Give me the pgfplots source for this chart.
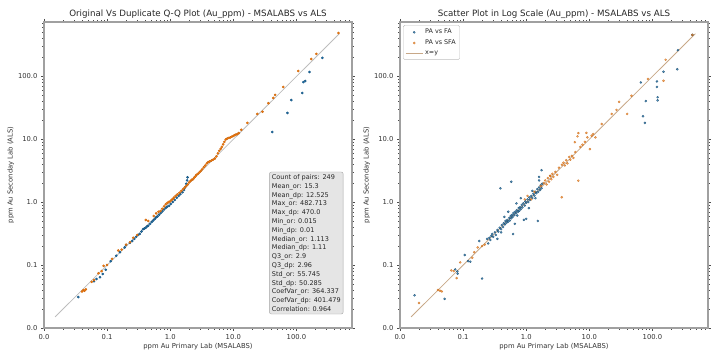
\documentclass[border=0pt]{standalone}
\usepackage{pgfplots}
\pgfplotsset{compat=1.18}
\usepackage{fontspec}
\setmainfont{DejaVu Sans}
\definecolor{mblue}{HTML}{1F77B4}
\definecolor{morange}{HTML}{FF7F0E}
\definecolor{spine}{HTML}{A0A0A0}
\definecolor{linegray}{HTML}{BDBDBD}
\definecolor{linetan}{HTML}{C8A888}
\begin{document}
\begin{tikzpicture}[x=1pt,y=1pt]
\path[use as bounding box] (0,0) rectangle (716,358);
% ---------------- Left: Q-Q plot ----------------
\begin{axis}[at={(44pt,30pt)},
    scale only axis, width=308pt, height=306pt, anchor=south west,
    xmode=log, ymode=log, xmin=0.01, xmax=760, ymin=0.01, ymax=720,
    axis line style={spine, line width=1.4pt},
    xtick={0.01,0.1,1,10,100}, ytick={0.01,0.1,1,10,100},
    xticklabels={0.0,0.1,1.0,10.0,100.0}, yticklabels={0.0,0.1,1.0,10.0,100.0},
    minor xtick={0.02,0.03,0.04,0.05,0.06,0.07,0.08,0.09,0.2,0.3,0.4,0.5,0.6,0.7,0.8,0.9,2,3,4,5,6,7,8,9,20,30,40,50,60,70,80,90,200,300,400,500,600,700},
    minor ytick={0.02,0.03,0.04,0.05,0.06,0.07,0.08,0.09,0.2,0.3,0.4,0.5,0.6,0.7,0.8,0.9,2,3,4,5,6,7,8,9,20,30,40,50,60,70,80,90,200,300,400,500,600,700},
    tick align=outside, major tick length=3pt, minor tick length=1.8pt,
    tick style={black!70, line width=0.5pt},
    ticklabel style={font=\fontsize{6.8}{7}\selectfont, text=black!80},
    label style={font=\fontsize{6.8}{7}\selectfont, text=black!80},
    title style={font=\fontsize{8.7}{9}\selectfont, text=black!85, at={(0.5,1)}, anchor=south, yshift=-6pt},
    xlabel={ppm Au Primary Lab (MSALABS)},
    ylabel={ppm Au Seconday Lab (ALS)},
    xlabel style={yshift=3pt},
    ylabel style={yshift=-3pt},
  title={Original Vs Duplicate Q-Q Plot (Au\_ppm) - MSALABS vs ALS}]
\addplot[linegray, line width=0.8pt] coordinates {(0.015,0.015) (480,470)};
\addplot[only marks, mark=*, mark size=1.1pt, mblue, mark options={draw=mblue!70!black, fill=mblue}] table {
x y
0.035 0.031
0.062 0.055
0.068 0.060
0.077 0.064
0.085 0.072
0.095 0.084
0.114 0.115
0.14 0.14
0.16 0.16
0.19 0.19
0.20 0.207
0.23 0.225
0.25 0.24
0.27 0.26
0.29 0.28
0.31 0.30
0.33 0.31
0.35 0.34
0.37 0.37
0.39 0.38
0.41 0.39
0.43 0.41
0.45 0.42
0.48 0.45
0.51 0.48
0.54 0.51
0.57 0.54
0.60 0.57
0.63 0.59
0.67 0.63
0.71 0.67
0.75 0.71
0.80 0.76
0.85 0.80
0.90 0.84
0.96 0.87
1.02 0.93
1.10 1.00
1.18 1.08
1.27 1.17
1.36 1.25
1.45 1.33
1.57 1.43
1.65 1.55
1.72 1.70
1.80 1.95
1.85 2.2
1.88 2.46
41.4 12.9
72 25.9
83 41.5
124 53.8
129 80
138 83
161 116
258 194
};
\addplot[only marks, mark=*, mark size=1.1pt, morange, mark options={draw=morange!80!black, fill=morange}] table {
x y
0.040 0.038
0.042 0.040
0.044 0.039
0.046 0.041
0.057 0.054
0.062 0.058
0.073 0.074
0.082 0.080
0.088 0.097
0.10 0.10
0.12 0.125
0.15 0.17
0.17 0.175
0.20 0.21
0.23 0.23
0.26 0.27
0.30 0.30
0.41 0.52
0.45 0.50
0.55 0.60
0.60 0.66
0.65 0.70
0.70 0.72
0.75 0.78
0.80 0.85
0.85 0.92
0.90 0.97
0.95 1.00
1.00 1.03
1.05 1.08
1.10 1.12
1.15 1.18
1.22 1.25
1.30 1.32
1.40 1.40
1.50 1.50
1.60 1.60
1.70 1.70
1.80 1.80
1.90 1.90
2.00 2.05
2.10 2.15
2.20 2.25
2.30 2.30
2.40 2.45
2.50 2.55
2.60 2.70
2.75 2.80
2.90 2.95
3.05 3.10
3.20 3.30
3.40 3.55
3.60 3.80
3.80 4.10
4.00 4.30
4.20 4.40
4.50 4.55
4.80 4.70
5.10 4.90
5.40 5.30
5.70 5.90
6.00 6.50
6.30 7.00
6.60 7.50
6.90 8.20
7.20 9.00
7.60 9.80
8.00 10.2
8.50 10.4
9.00 10.6
9.50 10.9
10.0 11.2
10.5 11.5
11.0 11.8
11.6 12.0
12.2 12.4
13.4 14.0
16.7 18.0
24 25
29 27
36 37
43 44.9
46 50
62 67
107 120
172 186
207 224
464 480
};
\node[anchor=south east, align=left, fill=black!10, draw=black!35, rounded corners=2pt, inner sep=2.5pt,
  font=\fontsize{6.5}{8.8}\selectfont, text=black!85] at (rel axis cs:0.972,0.045)
 {Count of pairs: 249\\Mean\_or: 15.3\\Mean\_dp: 12.525\\Max\_or: 482.713\\Max\_dp: 470.0\\Min\_or: 0.015\\Min\_dp: 0.01\\Median\_or: 1.113\\Median\_dp: 1.11\\Q3\_or: 2.9\\Q3\_dp: 2.96\\Std\_or: 55.745\\Std\_dp: 50.285\\CoefVar\_or: 364.337\\CoefVar\_dp: 401.479\\Correlation: 0.964};
\end{axis}
% ---------------- Right: scatter ----------------
\begin{axis}[at={(400pt,30pt)},
    scale only axis, width=308pt, height=306pt, anchor=south west,
    xmode=log, ymode=log, xmin=0.01, xmax=760, ymin=0.01, ymax=720,
    axis line style={spine, line width=1.4pt},
    xtick={0.01,0.1,1,10,100}, ytick={0.01,0.1,1,10,100},
    xticklabels={0.0,0.1,1.0,10.0,100.0}, yticklabels={0.0,0.1,1.0,10.0,100.0},
    minor xtick={0.02,0.03,0.04,0.05,0.06,0.07,0.08,0.09,0.2,0.3,0.4,0.5,0.6,0.7,0.8,0.9,2,3,4,5,6,7,8,9,20,30,40,50,60,70,80,90,200,300,400,500,600,700},
    minor ytick={0.02,0.03,0.04,0.05,0.06,0.07,0.08,0.09,0.2,0.3,0.4,0.5,0.6,0.7,0.8,0.9,2,3,4,5,6,7,8,9,20,30,40,50,60,70,80,90,200,300,400,500,600,700},
    tick align=outside, major tick length=3pt, minor tick length=1.8pt,
    tick style={black!70, line width=0.5pt},
    ticklabel style={font=\fontsize{6.8}{7}\selectfont, text=black!80},
    label style={font=\fontsize{6.8}{7}\selectfont, text=black!80},
    title style={font=\fontsize{8.7}{9}\selectfont, text=black!85, at={(0.5,1)}, anchor=south, yshift=-6pt},
    xlabel={ppm Au Primary Lab (MSALABS)},
    ylabel={ppm Au Seconday Lab (ALS)},
    xlabel style={yshift=3pt},
    ylabel style={yshift=-3pt},
  title={Scatter Plot in Log Scale (Au\_ppm) - MSALABS vs ALS},
  legend cell align=left,
  legend style={at={(0.01,0.99)}, anchor=north west, draw=black!25, rounded corners=1.5pt,
    font=\fontsize{6.4}{7.5}\selectfont, text=black!85, row sep=0.5pt, inner sep=2pt},
  ]
\addplot[only marks, mark=*, mark size=1.05pt, mblue, mark options={draw=mblue!60!black, fill=mblue, fill opacity=0.7, draw opacity=0.8}] table {
x y
0.017 0.033
0.051 0.029
0.081 0.079
0.082 0.073
0.075 0.085
0.106 0.144
0.13 0.113
0.12 0.115
0.20 0.061
0.18 0.24
0.25 0.22
0.24 0.26
0.26 0.27
0.27 0.25
0.28 0.29
0.30 0.28
0.29 0.31
0.32 0.33
0.33 0.30
0.35 0.36
0.36 0.34
0.38 0.39
0.40 0.37
0.41 0.43
0.43 0.40
0.44 0.46
0.46 0.44
0.47 0.50
0.49 0.47
0.50 0.52
0.52 0.49
0.54 0.56
0.55 0.51
0.57 0.60
0.58 0.55
0.60 0.63
0.61 0.58
0.62 0.31
0.63 0.67
0.65 0.62
0.67 0.70
0.69 0.66
0.71 0.74
0.72 0.61
0.74 0.70
0.76 0.80
0.78 0.73
0.80 0.83
0.82 0.77
0.85 0.90
0.87 0.82
0.90 0.95
0.92 0.52
0.95 0.88
0.97 1.02
1.00 0.54
1.00 0.97
1.05 1.10
1.08 1.00
1.12 1.18
1.15 1.08
1.20 1.25
1.25 1.16
1.30 1.35
1.35 1.26
1.40 1.45
1.45 1.38
1.50 1.60
1.53 0.50
1.55 1.45
1.60 1.70
1.65 1.55
1.70 1.85
1.75 1.65
1.80 1.95
0.39 1.65
0.58 2.1
0.45 0.58
0.52 0.70
0.70 0.95
0.66 0.45
0.82 1.15
1.10 0.80
0.35 0.26
0.40 0.33
1.25 1.50
1.60 2.20
1.40 1.15
1.75 3.2
1.60 2.5
65.6 79
78.5 40
71 23
76 18
118 82
118 67
121 46
121 41
150 117
254 257
248 128
430 450
};
\addlegendentry{PA vs FA}
\addplot[only marks, mark=*, mark size=1.05pt, morange, mark options={draw=morange!75!black, fill=morange, fill opacity=0.6, draw opacity=0.7}] table {
x y
0.020 0.025
0.043 0.039
0.046 0.038
0.040 0.040
0.079 0.062
0.071 0.080
0.065 0.082
0.09 0.11
0.14 0.13
0.15 0.16
0.17 0.19
0.20 0.20
0.22 0.21
1.05 1.25
0.95 1.10
1.2 1.1
1.35 1.45
1.7 1.8
1.9 2.0
2.0 2.2
2.1 1.9
2.2 2.4
2.3 2.1
2.4 2.6
2.5 2.3
2.6 2.8
2.7 2.5
2.9 3.0
3.1 2.7
3.3 3.5
3.66 1.19
3.7 3.9
3.9 4.2
4.1 3.8
4.3 4.6
4.5 4.1
4.8 5.2
5.0 4.7
5.3 5.4
5.6 5.0
6.0 6.2
6.5 11.0
6.7 12.4
6.7 2.18
5.9 8.9
7.2 7.5
7.8 8.1
8.5 9.0
9.3 10.6
10.2 6.9
10.9 11.3
11.5 12.0
12.5 10.6
9.0 12.5
2.4 2.6
15.7 17.3
22.6 25
27 29
29.7 38.9
39.8 25
46.5 48.6
85 90
150 84
162 181
430 450
};
\addlegendentry{PA vs SFA}
\addplot[linetan, line width=0.8pt] coordinates {(0.015,0.015) (480,470)};
\addlegendentry{x=y}
\end{axis}
\end{tikzpicture}
\end{document}
